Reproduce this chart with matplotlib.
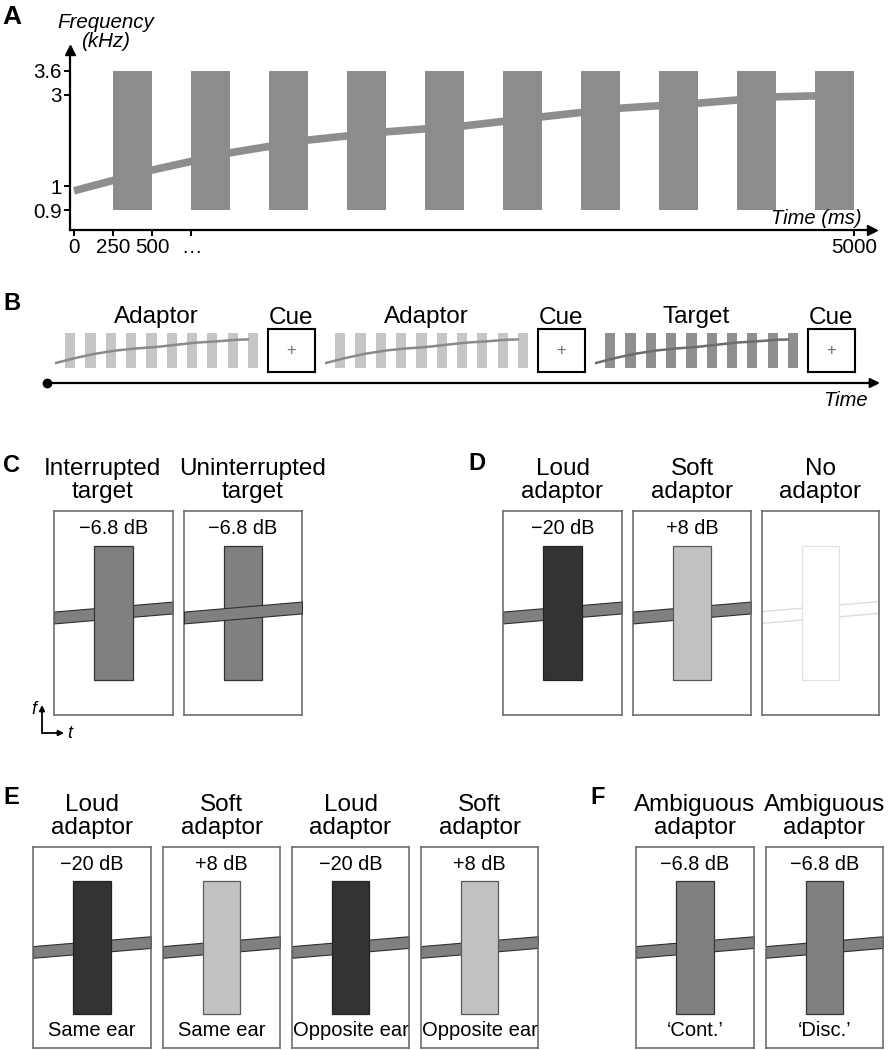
import numpy as np
import matplotlib.pyplot as plt

plt.rcParams['font.family'] = ['Liberation Sans', 'DejaVu Sans']

# ---- data -------------------------------------------------------------
freq_ticks = [0.9, 1, 3, 3.6]
freq_labels = ['0.9', '1', '3', '3.6']
time_ticks = [0, 250, 500, 750, 5000]
time_labels = ['0', '250', '500', '…', '5000']

burst_onsets = [250, 750, 1250, 1750, 2250, 2750, 3250, 3750, 4250, 4750]
burst_dur = 250
burst_lo, burst_hi = 0.9, 3.6

glide_t = [0, 500, 1000, 1500, 2000, 2500, 3000, 3500, 4000, 4500, 4750]
glide_f = [0.98, 1.35, 1.73, 2.01, 2.19, 2.32, 2.52, 2.71, 2.82, 2.96, 2.98]

trial_labels = ['Adaptor', 'Adaptor', 'Target']
cue_label = 'Cue'

c_titles = ['Interrupted\ntarget', 'Uninterrupted\ntarget']
c_levels = ['−6.8 dB', '−6.8 dB']
c_interrupted = [True, False]

d_titles = ['Loud\nadaptor', 'Soft\nadaptor', 'No\nadaptor']
d_levels = ['−20 dB', '+8 dB', '']

e_titles = ['Loud\nadaptor', 'Soft\nadaptor', 'Loud\nadaptor', 'Soft\nadaptor']
e_levels = ['−20 dB', '+8 dB', '−20 dB', '+8 dB']
e_ears = ['Same ear', 'Same ear', 'Opposite ear', 'Opposite ear']

f_titles = ['Ambiguous\nadaptor', 'Ambiguous\nadaptor']
f_levels = ['−6.8 dB', '−6.8 dB']
f_percepts = ['‘Cont.’', '‘Disc.’']

# ---- styles / layout ------------------------------------------------------
W, H = 894, 1050
LOUD, SOFT, MID = '#333333', '#c2c2c2', '#808080'
level_fill = {'−20 dB': LOUD, '+8 dB': SOFT, '−6.8 dB': MID, '': 'white'}
level_edge = {'−20 dB': '#222222', '+8 dB': '#5a5a5a', '−6.8 dB': '#333333', '': '#e2e2e2'}

# schematic frequency axis: tick rows (px) of the kHz ticks in panel A
tick_rows = np.array([210, 186, 95, 71])


def f2pos(f):
    f = np.asarray(f, float)
    kf, kp = np.array(freq_ticks), -tick_rows.astype(float)
    lo = kp[0] + (f - kf[0]) * (kp[1] - kp[0]) / (kf[1] - kf[0])
    hi = kp[-1] + (f - kf[-1]) * (kp[-1] - kp[-2]) / (kf[-1] - kf[-2])
    return np.where(f < kf[0], lo, np.where(f > kf[-1], hi, np.interp(f, kf, kp)))


def pos2f(p):
    p = np.asarray(p, float)
    kf, kp = np.array(freq_ticks), -tick_rows.astype(float)
    lo = kf[0] + (p - kp[0]) * (kf[1] - kf[0]) / (kp[1] - kp[0])
    hi = kf[-1] + (p - kp[-1]) * (kf[-1] - kf[-2]) / (kp[-1] - kp[-2])
    return np.where(p < kp[0], lo, np.where(p > kp[-1], hi, np.interp(p, kp, kf)))


fig = plt.figure(figsize=(W / 100, H / 100), dpi=100)


def px_axes(x0, y0, x1, y1, **kw):
    return fig.add_axes([x0 / W, 1 - y1 / H, (x1 - x0) / W, (y1 - y0) / H], **kw)


ov = fig.add_axes([0, 0, 1, 1], zorder=-1)
ov.set_xlim(0, W)
ov.set_ylim(H, 0)
ov.axis('off')

# ---- panel A --------------------------------------------------------------
T0, PXMS = 74, 0.156
axA = px_axes(70, 50, 872, 230)
axA.set_yscale('function', functions=(f2pos, pos2f))
axA.set_ylim(float(pos2f(-230)), float(pos2f(-50)))
axA.set_xlim((70 - T0) / PXMS, (872 - T0) / PXMS)
axA.bar(burst_onsets, burst_hi - burst_lo, bottom=burst_lo, width=burst_dur,
        align='edge', color='#8c8c8c', zorder=3)
axA.plot(glide_t, glide_f, color='#8e8e8e', lw=5.5, solid_capstyle='butt', zorder=2)
axA.set_yticks(freq_ticks, labels=freq_labels)
axA.set_xticks(time_ticks, labels=time_labels)
axA.minorticks_off()
axA.tick_params(length=4, width=1.4, labelsize=14.8, pad=2)
for s in ['top', 'right']:
    axA.spines[s].set_visible(False)
for s in ['left', 'bottom']:
    axA.spines[s].set_linewidth(1.6)
axA.plot(0, 1, '^', color='k', ms=7, transform=axA.transAxes, clip_on=False)
axA.plot(1, 0, '>', color='k', ms=7, transform=axA.transAxes, clip_on=False)
fig.text(106 / W, 1 - 32 / H, 'Frequency\n(kHz)', ha='center', va='center',
         style='italic', fontsize=14.8, linespacing=0.95)
fig.text(816 / W, 1 - 218 / H, 'Time (ms)', ha='center', va='center',
         style='italic', fontsize=14.5)

# ---- panel B --------------------------------------------------------------
seg_x0 = [55, 325, 595]
for x0, lab in zip(seg_x0, trial_labels):
    dark = lab == 'Target'
    ax = px_axes(x0, 328, x0 + 203, 373)
    ax.set_yscale('function', functions=(f2pos, pos2f))
    ax.set_ylim(float(pos2f(-230)), float(pos2f(-50)))
    ax.set_xlim(0, 5000)
    ax.bar(burst_onsets, burst_hi - burst_lo, bottom=burst_lo, width=burst_dur,
           align='edge', color='#8f8f8f' if dark else '#c6c6c6', zorder=2)
    ax.plot(glide_t, glide_f, color='#6c6c6c' if dark else '#8a8a8a', lw=1.8, zorder=3)
    ax.axis('off')
    ax.set_title(lab, fontsize=17.5, pad=2)

    cue = px_axes(x0 + 213, 329, x0 + 260, 372)
    cue.set_xticks([])
    cue.set_yticks([])
    for s in cue.spines.values():
        s.set_linewidth(1.5)
    cue.text(0.5, 0.5, '+', ha='center', va='center', fontsize=12, color='#707070')
    cue.set_title(cue_label, fontsize=17.5, pad=2)

ov.annotate('', xy=(880, 383), xytext=(47, 383),
            arrowprops=dict(arrowstyle='-|>', color='k', lw=1.6, mutation_scale=14,
                            shrinkA=0, shrinkB=0))
ov.plot(47, 383, 'o', color='k', ms=6)
ov.text(868, 400, 'Time', ha='right', va='center', style='italic', fontsize=14.5)

# ---- condition boxes (C-F) ---------------------------------------------------
BAND_L, BAND_R, BAND_HALF = 0.478, 0.527, 0.029
MASK_BOT, MASK_TOP, MASK_W = 0.17, 0.83, 0.32


def cond_box(box, title, level, band_on_top=False, note=None, title_x=0.5):
    ax = px_axes(*box)
    ax.set_xlim(0, 1)
    ax.set_ylim(0, 1)
    ax.set_xticks([])
    ax.set_yticks([])
    for s in ax.spines.values():
        s.set_color('#6e6e6e')
        s.set_linewidth(1.2)
    tt = np.array([0.0, 1.0])
    mid = BAND_L + (BAND_R - BAND_L) * tt
    if level == '':
        ax.plot(tt, mid - BAND_HALF, color='#dddddd', lw=1, zorder=1)
        ax.plot(tt, mid + BAND_HALF, color='#dddddd', lw=1, zorder=1)
    else:
        ax.fill_between(tt, mid - BAND_HALF, mid + BAND_HALF, facecolor='#808080',
                        edgecolor='#2e2e2e', lw=0.8, zorder=3 if band_on_top else 1)
    ax.bar(0.5, MASK_TOP - MASK_BOT, bottom=MASK_BOT, width=MASK_W,
           color=level_fill[level], edgecolor=level_edge[level], lw=0.9, zorder=2)
    if level:
        ax.text(0.5, 0.912, level, ha='center', va='center', fontsize=14.3)
    if note:
        ax.text(0.5, 0.085, note, ha='center', va='center', fontsize=14.5)
    ax.annotate(title, xy=(title_x, 1), xycoords='axes fraction', xytext=(0, 6),
                textcoords='offset points', ha='center', va='bottom',
                fontsize=17.5, linespacing=1.05)
    return ax


c_boxes = [(54, 511, 173, 715), (184, 511, 302, 715)]
c_tx = [0.41, 0.585]
for b, t, lv, intr, tx in zip(c_boxes, c_titles, c_levels, c_interrupted, c_tx):
    cond_box(b, t, lv, band_on_top=not intr, title_x=tx)

d_boxes = [(503, 511, 622, 715), (633, 511, 751, 715), (762, 511, 879, 715)]
for b, t, lv in zip(d_boxes, d_titles, d_levels):
    cond_box(b, t, lv)

e_boxes = [(33, 847, 151, 1048), (163, 847, 280, 1048),
           (292, 847, 409, 1048), (421, 847, 538, 1048)]
for b, t, lv, ear in zip(e_boxes, e_titles, e_levels, e_ears):
    cond_box(b, t, lv, note=ear)

f_boxes = [(636, 847, 754, 1048), (766, 847, 883, 1048)]
for b, t, lv, p in zip(f_boxes, f_titles, f_levels, f_percepts):
    cond_box(b, t, lv, note=p)

# f / t icon
for tip in [(42, 705), (64, 733)]:
    ov.annotate('', xy=tip, xytext=(42, 733),
                arrowprops=dict(arrowstyle='-|>', color='k', lw=1.3, mutation_scale=8,
                                shrinkA=0, shrinkB=0))
ov.text(34, 710, 'f', ha='center', va='center', style='italic', fontsize=13)
ov.text(70, 733, 't', ha='center', va='center', style='italic', fontsize=13)

# panel letters
for lab, x, y, fs in [('A', 2, 17, 19), ('B', 3, 303, 17), ('C', 3, 465, 17),
                      ('D', 468, 463, 17), ('E', 3, 797, 17), ('F', 590, 797, 17)]:
    fig.text(x / W, 1 - y / H, lab, ha='left', va='center', fontweight='bold', fontsize=fs)

fig.savefig('out.png', dpi=100)
